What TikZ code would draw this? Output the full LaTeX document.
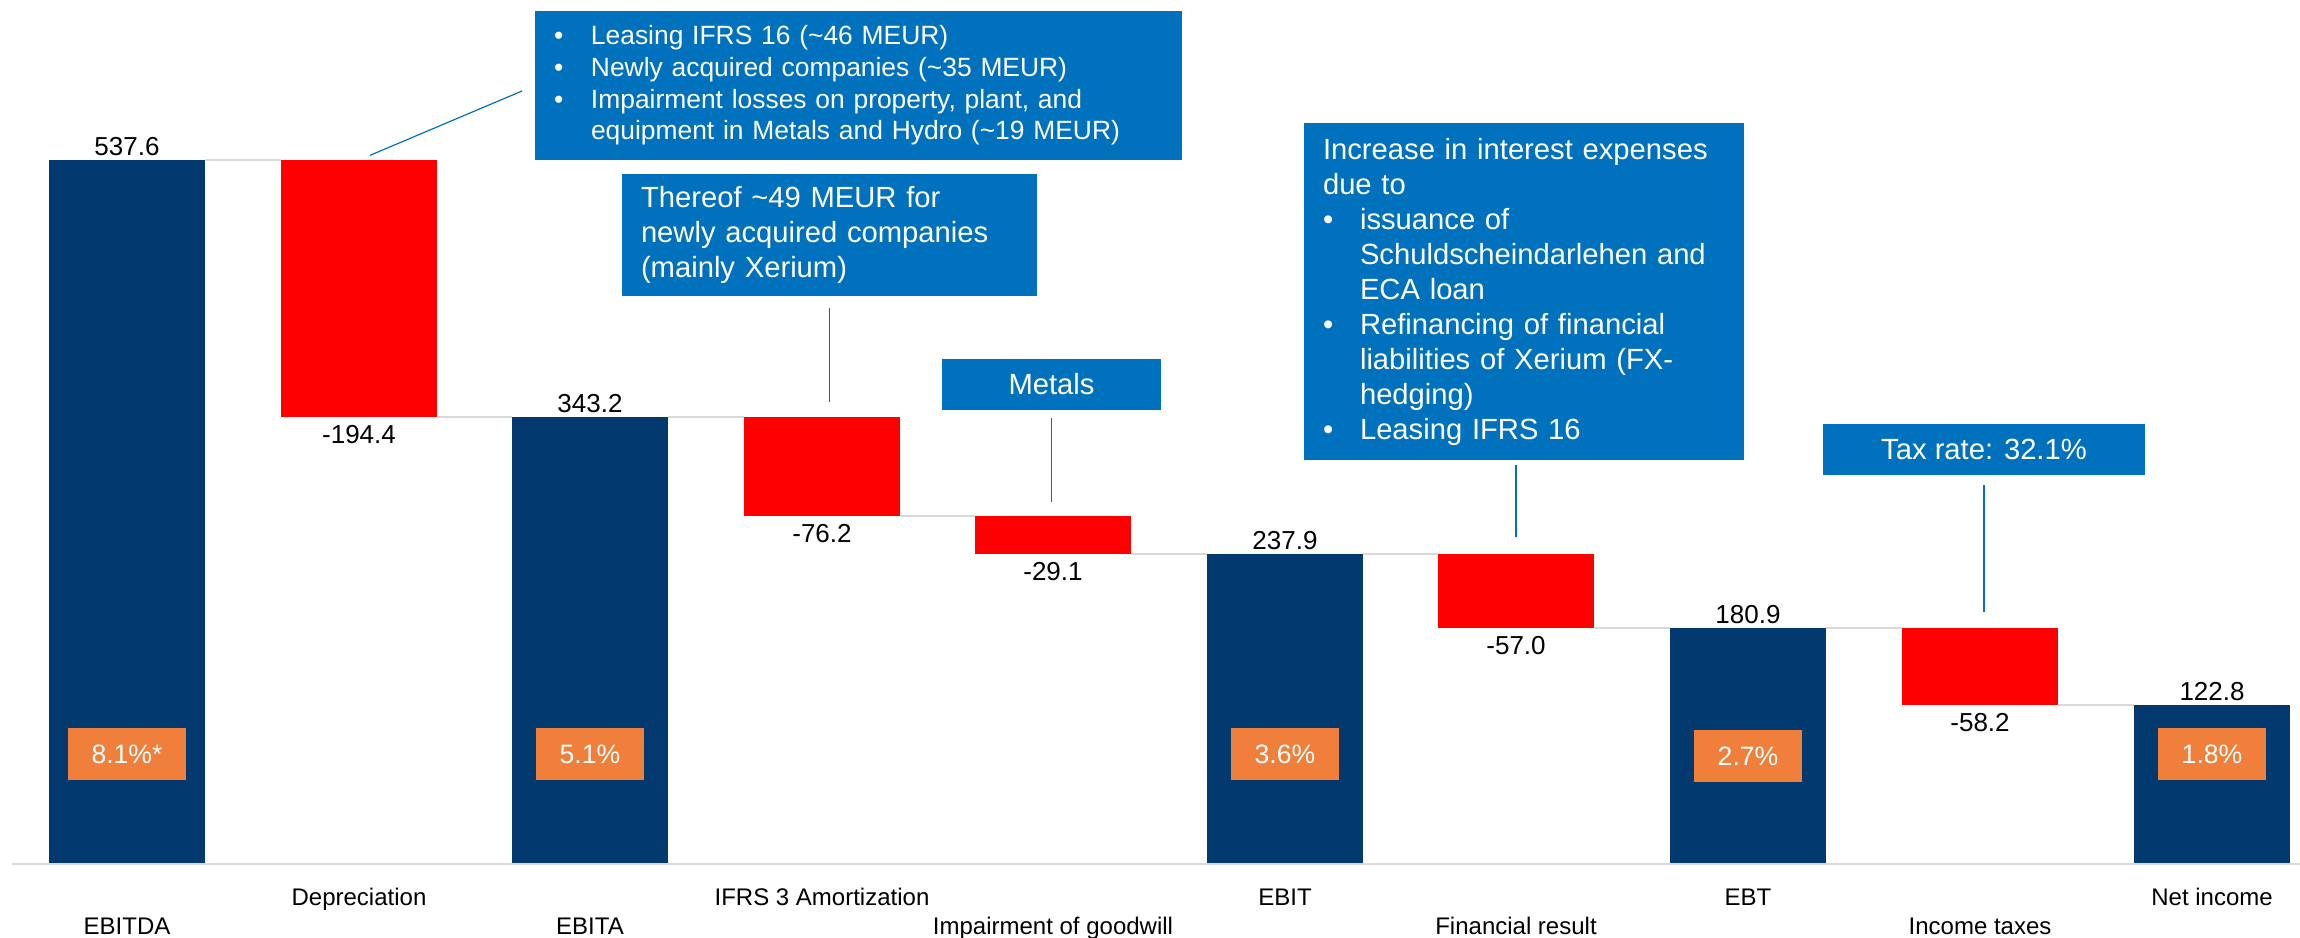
\documentclass[tikz,border=0pt]{standalone}
\usepackage{fontspec}
\setmainfont{Liberation Sans}
\usepackage{tikz}
\usetikzlibrary{positioning}

\definecolor{barblue}{HTML}{023A70}
\definecolor{barred}{HTML}{FF0000}
\definecolor{pctorange}{HTML}{EF7F3B}
\definecolor{callblue}{HTML}{0072BD}
\definecolor{linegray}{HTML}{D9D9D9}

\newcommand{\bitem}{\makebox[18.5pt][l]{\textbullet}}
\newcommand{\bcont}{\hspace*{18.5pt}}

\begin{document}
\begin{tikzpicture}[x=0.5pt, y=-0.5pt,
    totalbar/.style={fill=barblue, anchor=north west, minimum width=78pt, inner sep=0pt, outer sep=0pt},
    lossbar/.style={totalbar, fill=barred},
    levelline/.style={draw=linegray, line width=1.2pt},
    vallabel/.style={font=\fontsize{13}{15.6}\selectfont, inner sep=2pt},
    catlabel/.style={font=\fontsize{12}{14.4}\selectfont, anchor=base, inner sep=0pt},
    pctbox/.style={fill=pctorange, text=white, font=\fontsize{13.3}{16}\selectfont, inner xsep=12pt, minimum height=26pt},
    callout/.style={fill=callblue, text=white, anchor=north west, inner xsep=9.5pt, inner ysep=0pt, outer sep=0pt, align=left, font=\fontsize{14.6}{17.5}\selectfont},
    callline/.style={draw=callblue, line width=0.6pt}]

        \useasboundingbox (0,0) rectangle (2300,937);
        \coordinate (row1) at (0,905);
        \coordinate (row2) at (0,934);
        \coordinate (axisl) at (12,864);
        \coordinate (axisr) at (2300,864);

        % bars
        \node[totalbar, minimum height=352pt] (ebitda) at (49,160) {};
        \node[lossbar, minimum height=128.5pt] (dep) at (281,160) {};
        \node[totalbar, minimum height=223.5pt] (ebita) at (512,417) {};
        \node[lossbar, minimum height=49.5pt] (amort) at (744,417) {};
        \node[lossbar, minimum height=19pt] (impair) at (975,516) {};
        \node[totalbar, minimum height=155pt] (ebit) at (1207,554) {};
        \node[lossbar, minimum height=37pt] (finres) at (1438,554) {};
        \node[totalbar, minimum height=118pt] (ebt) at (1670,628) {};
        \node[lossbar, minimum height=38.5pt] (tax) at (1902,628) {};
        \node[totalbar, minimum height=79.5pt] (net) at (2134,705) {};

        \draw[levelline] (ebitda.north east) -- (dep.north west);
        \draw[levelline] (dep.south east) -- (ebita.north west);
        \draw[levelline] (ebita.north east) -- (amort.north west);
        \draw[levelline] (amort.south east) -- (impair.north west);
        \draw[levelline] (impair.south east) -- (ebit.north west);
        \draw[levelline] (ebit.north east) -- (finres.north west);
        \draw[levelline] (finres.south east) -- (ebt.north west);
        \draw[levelline] (ebt.north east) -- (tax.north west);
        \draw[levelline] (tax.south east) -- (net.north west);
        \draw[levelline] (axisl) -- (axisr);

        % values
        \node[vallabel, above] (v-ebitda) at (ebitda.north) {537.6};
        \node[vallabel, below=2pt] (v-dep) at (dep.south) {-194.4};
        \node[vallabel, above] (v-ebita) at (ebita.north) {343.2};
        \node[vallabel, below=2pt] (v-amort) at (amort.south) {-76.2};
        \node[vallabel, below=2pt] (v-impair) at (impair.south) {-29.1};
        \node[vallabel, above] (v-ebit) at (ebit.north) {237.9};
        \node[vallabel, below=2pt] (v-finres) at (finres.south) {-57.0};
        \node[vallabel, above] (v-ebt) at (ebt.north) {180.9};
        \node[vallabel, below=2pt] (v-tax) at (tax.south) {-58.2};
        \node[vallabel, above] (v-net) at (net.north) {122.8};

        % margins
        \node[pctbox] (p-ebitda) at ([yshift=55pt]ebitda.south) {8.1\%*};
        \node[pctbox] (p-ebita) at ([yshift=55pt]ebita.south) {5.1\%};
        \node[pctbox] (p-ebit) at ([yshift=55pt]ebit.south) {3.6\%};
        \node[pctbox] (p-ebt) at ([yshift=54pt]ebt.south) {2.7\%};
        \node[pctbox] (p-net) at ([yshift=55pt]net.south) {1.8\%};

        % categories
        \node[catlabel] (c-ebitda) at (ebitda.south |- row2) {EBITDA};
        \node[catlabel] (c-dep) at (dep.south |- row1) {Depreciation};
        \node[catlabel] (c-ebita) at (ebita.south |- row2) {EBITA};
        \node[catlabel] (c-amort) at (amort.south |- row1) {IFRS 3 Amortization};
        \node[catlabel] (c-impair) at (impair.south |- row2) {Impairment of goodwill};
        \node[catlabel] (c-ebit) at (ebit.south |- row1) {EBIT};
        \node[catlabel] (c-finres) at (finres.south |- row2) {Financial result};
        \node[catlabel] (c-ebt) at (ebt.south |- row1) {EBT};
        \node[catlabel] (c-tax) at (tax.south |- row2) {Income taxes};
        \node[catlabel] (c-net) at (net.south |- row1) {Net income};

        % callouts
        \node[callout, text width=304.5pt, minimum height=74.5pt, font=\fontsize{13.2}{15.85}\selectfont] (note-dep) at (535,11)
            {\bitem Leasing IFRS 16 (\textasciitilde 46 MEUR)\\
             \bitem Newly acquired companies (\textasciitilde 35 MEUR)\\
             \bitem Impairment losses on property, plant, and\\
             \bcont equipment in Metals and Hydro (\textasciitilde 19 MEUR)};
        \node[callout, text width=188.5pt, minimum height=61pt] (note-amort) at (622,174)
            {Thereof \textasciitilde 49 MEUR for\\
             newly acquired companies\\
             (mainly Xerium)};
        \node[callout, minimum width=109.5pt, minimum height=25.5pt] (note-impair) at (942,359) {Metals};
        \node[callout, text width=201pt, minimum height=168.5pt] (note-fin) at (1304,123)
            {Increase in interest expenses\\
             due to\\
             \bitem issuance of\\
             \bcont Schuldscheindarlehen and\\
             \bcont ECA loan\\
             \bitem Refinancing of financial\\
             \bcont liabilities of Xerium (FX-\\
             \bcont hedging)\\
             \bitem Leasing IFRS 16};
        \node[callout, minimum width=161pt, minimum height=25.5pt] (note-tax) at (1823,424) {Tax rate: 32.1\%};

        \draw[callline, shorten <=6pt, shorten >=7pt] (dep.north) -- (note-dep.west);
        \draw[callline, shorten <=6pt, shorten >=7.5pt] (note-amort.south) -- (note-amort.south |- amort.north);
        \draw[callline, shorten <=4pt, shorten >=7pt] (note-impair.south) -- (note-impair.south |- impair.north);
        \draw[callline, shorten <=8.5pt, shorten >=2.5pt] (finres.north) -- (finres.north |- note-fin.south);
        \draw[callline, shorten <=5pt, shorten >=8pt] (note-tax.south) -- (note-tax.south |- tax.north);

    \end{tikzpicture}
\end{document}
